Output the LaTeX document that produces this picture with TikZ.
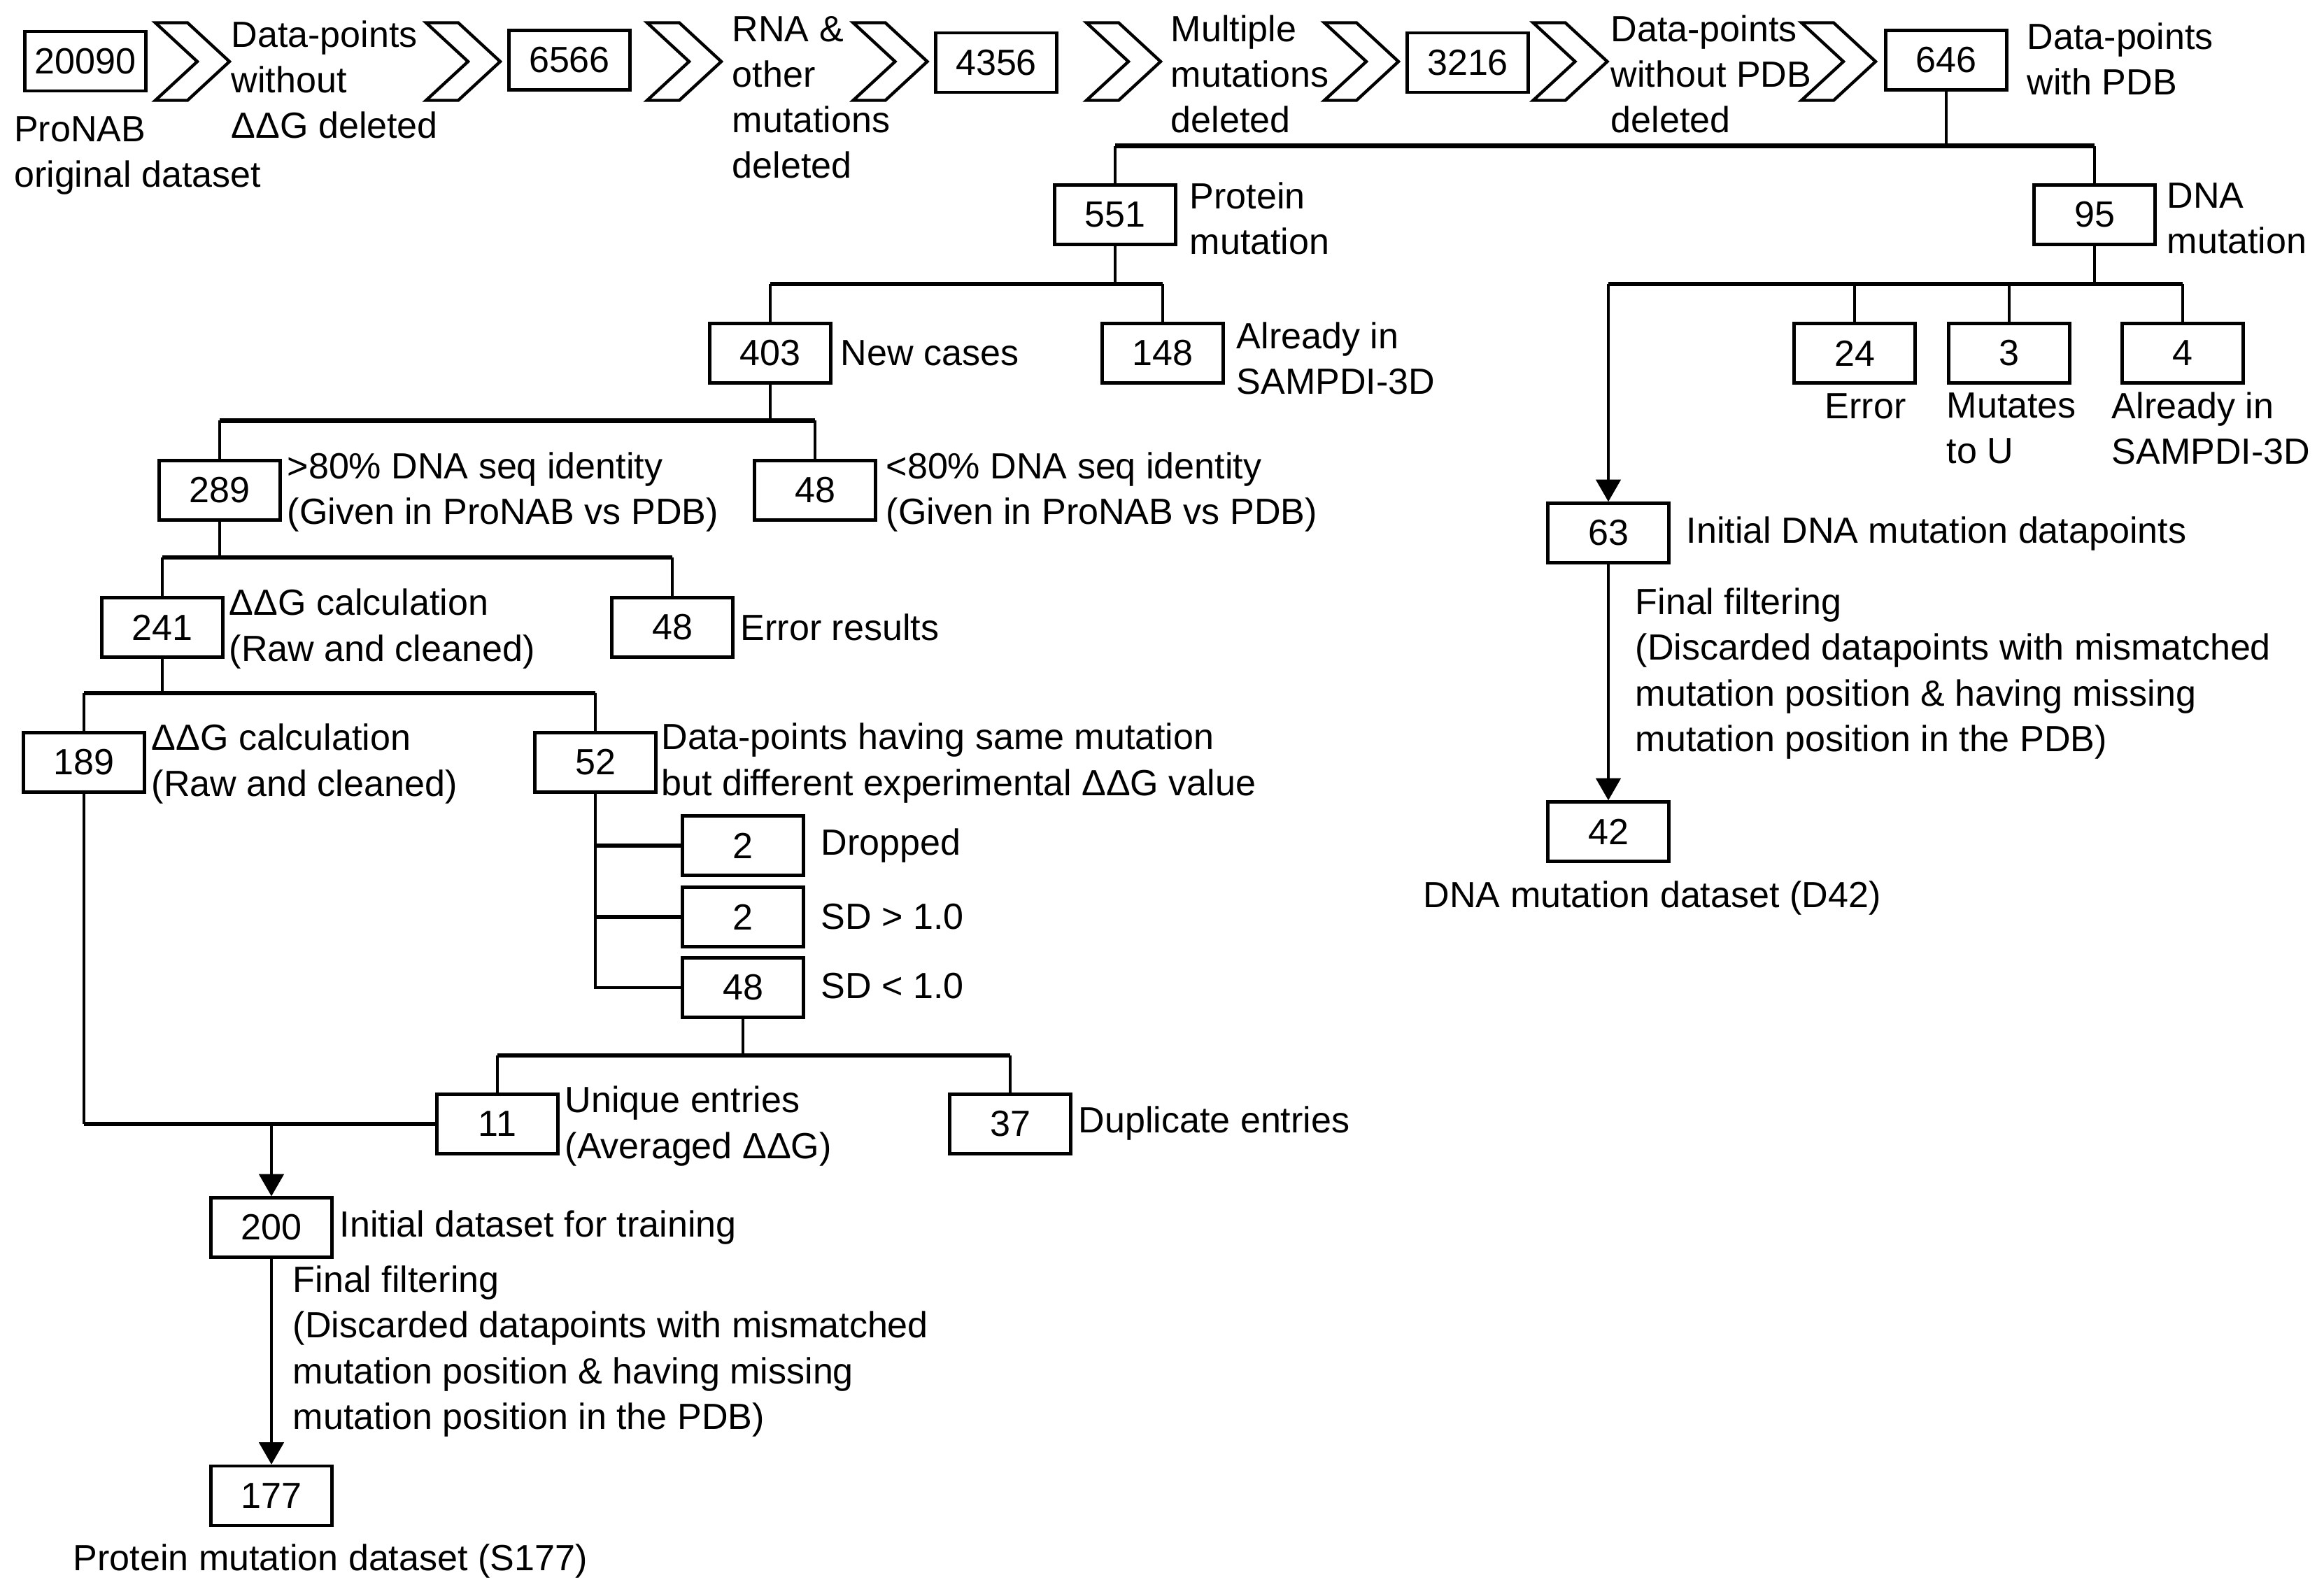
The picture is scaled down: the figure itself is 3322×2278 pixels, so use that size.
\documentclass[tikz,border=0pt]{standalone}
\usepackage{fontspec}
\setmainfont{Liberation Sans}
\usetikzlibrary{arrows.meta}
\newcommand{\lblfont}{\fontsize{14.8}{18.5}\selectfont}
\begin{document}
\begin{tikzpicture}[x=0.01cm,y=-0.01cm,
  box/.style={draw,line width=1.25pt,minimum width=1.73cm,minimum height=0.85cm,inner sep=0pt,font=\lblfont},
  lbl/.style={inner sep=0pt,align=left,anchor=west,font=\lblfont},
  conn/.style={line width=1.2pt},
  bus/.style={line width=1.8pt},
  arr/.style={line width=1.2pt,-{Triangle[width=10pt,length=9pt]}},
  chev/.style={draw,line width=1.25pt,line join=miter}]
\useasboundingbox (0,0) rectangle (3322,2278);

% chevrons
\foreach \cx in {222,609,925,1219.5,1553,1893,2191.5,2575}
  \draw[chev] (\cx,32.5) -- ++(46,0) -- ++(60,55.5) -- ++(-60,55.5) -- ++(-46,0) -- ++(60,-55.5) -- cycle;

% top row
\node[box] (b20090) at (122,87.5) {20090};
\node[box] (b6566) at (814,86) {6566};
\node[box] (b4356) at (1424,89.5) {4356};
\node[box] (b3216) at (2098,89.5) {3216};
\node[box] (b646) at (2782,86) {646};
\node[lbl] (l20090) at (19.5,222.5) {ProNAB\\original dataset};
\node[lbl] (l1) at (330,114) {Data-points\\without\\ΔΔG deleted};
\node[lbl] (l2) at (1046,139) {RNA \&\\other\\mutations\\deleted};
\node[lbl] (l3) at (1673,106) {Multiple\\mutations\\deleted};
\node[lbl] (l4) at (2302,106) {Data-points\\without PDB\\deleted};
\node[lbl] (l646) at (2897,84) {Data-points\\with PDB};

% row 2
\node[box] (b551) at (1594,307) {551};
\node[lbl] (l551) at (1700,312) {Protein\\mutation};
\node[box] (b95) at (2994,307) {95};
\node[lbl] (l95) at (3097,312) {DNA\\mutation};

% row 3
\node[box] (b403) at (1101,505) {403};
\node[lbl] (l403) at (1201,505) {New cases};
\node[box] (b148) at (1662,505) {148};
\node[lbl] (l148) at (1767,512) {Already in\\SAMPDI-3D};
\node[box] (b24) at (2651,505) {24};
\node[box] (b3) at (2872,505) {3};
\node[box] (b4) at (3120,505) {4};
\node[lbl] (l24) at (2608,581) {Error};
\node[lbl] (l3) at (2782,612) {Mutates\\to U};
\node[lbl] (l4) at (3018,612) {Already in\\SAMPDI-3D};

% row 4
\node[box] (b289) at (314,701) {289};
\node[lbl] (l289) at (410,703.5) {>80\% DNA seq identity\\(Given in ProNAB vs PDB)};
\node[box] (b48a) at (1165,701) {48};
\node[lbl] (l48a) at (1266,703.5) {<80\% DNA seq identity\\(Given in ProNAB vs PDB)};

% row 5
\node[box] (b241) at (232,897) {241};
\node[lbl] (l241) at (327,899) {ΔΔG calculation\\(Raw and cleaned)};
\node[box] (b48e) at (961,897) {48};
\node[lbl] (l48e) at (1058,897) {Error results};

% row 6
\node[box] (b189) at (120,1090) {189};
\node[lbl] (l189) at (216,1092) {ΔΔG calculation\\(Raw and cleaned)};
\node[box] (b52) at (851,1090) {52};
\node[lbl] (l52) at (945,1091) {Data-points having same mutation\\but different experimental ΔΔG value};

\node[box] (b2a) at (1062,1209) {2};
\node[lbl] (l2a) at (1173,1209) {Dropped};
\node[box] (b2b) at (1062,1311) {2};
\node[lbl] (l2b) at (1173,1311) {SD > 1.0};
\node[box] (b48c) at (1062,1412) {48};
\node[lbl] (l48c) at (1173,1410) {SD < 1.0};

\node[box] (b11) at (711,1607) {11};
\node[lbl] (l11) at (807,1610) {Unique entries\\(Averaged ΔΔG)};
\node[box] (b37) at (1444,1607) {37};
\node[lbl] (l37) at (1541,1606) {Duplicate entries};

\node[box] (b200) at (388,1755) {200};
\node[lbl] (l200) at (485,1755) {Initial dataset for training};
\node[lbl] (lff1) at (418,1932) {Final filtering\\(Discarded datapoints with mismatched\\mutation position \& having missing\\mutation position in the PDB)};
\node[box] (b177) at (388,2138.5) {177};
\node[lbl] (l177) at (104,2232) {Protein mutation dataset (S177)};

% DNA branch
\node[box] (b63) at (2299,762) {63};
\node[lbl] (l63) at (2410,763) {Initial DNA mutation datapoints};
\node[lbl] (lff2) at (2337,963) {Final filtering\\(Discarded datapoints with mismatched\\mutation position \& having missing\\mutation position in the PDB)};
\node[box] (b42) at (2299,1189) {42};
\node[lbl] (l42) at (2034,1284) {DNA mutation dataset (D42)};

% junction coordinates
\coordinate (j646) at (2782,208.6);
\coordinate (j551) at (1594,405.7);
\coordinate (j95) at (2994,405.7);
\coordinate (j403) at (1101,601.4);
\coordinate (j289) at (314,797);
\coordinate (j241) at (232,990.7);
\coordinate (j48c) at (1062,1509);

% 646 split
\draw[conn] (b646.south) -- (j646);
\draw[bus] (b551.north |- j646) -- (b95.north |- j646);
\draw[conn] (b551.north |- j646) -- (b551.north);
\draw[conn] (b95.north |- j646) -- (b95.north);

% 551 split
\draw[conn] (b551.south) -- (j551);
\draw[bus] (b403.north |- j551) -- (b148.north |- j551);
\draw[conn] (b403.north |- j551) -- (b403.north);
\draw[conn] (b148.north |- j551) -- (b148.north);

% 95 split
\draw[conn] (b95.south) -- (j95);
\draw[bus] (b63.north |- j95) -- (b4.north |- j95);
\draw[conn] (b24.north |- j95) -- (b24.north);
\draw[conn] (b3.north |- j95) -- (b3.north);
\draw[conn] (b4.north |- j95) -- (b4.north);
\draw[arr] (b63.north |- j95) -- (b63.north);
\draw[arr] (b63.south) -- (b42.north);

% 403 split
\draw[conn] (b403.south) -- (j403);
\draw[bus] (b289.north |- j403) -- (b48a.north |- j403);
\draw[conn] (b289.north |- j403) -- (b289.north);
\draw[conn] (b48a.north |- j403) -- (b48a.north);

% 289 split
\draw[conn] (b289.south) -- (j289);
\draw[bus] (b241.north |- j289) -- (b48e.north |- j289);
\draw[conn] (b241.north |- j289) -- (b241.north);
\draw[conn] (b48e.north |- j289) -- (b48e.north);

% 241 split
\draw[conn] (b241.south) -- (j241);
\draw[bus] (b189.north |- j241) -- (b52.north |- j241);
\draw[conn] (b189.north |- j241) -- (b189.north);
\draw[conn] (b52.north |- j241) -- (b52.north);

% 52 sub-branches
\draw[conn] (b52.south) -- (b52.south |- b48c.west) -- (b48c.west);
\draw[bus] (b52.south |- b2a.west) -- (b2a.west);
\draw[bus] (b52.south |- b2b.west) -- (b2b.west);

% 48 split
\draw[conn] (b48c.south) -- (j48c);
\draw[bus] (b11.north |- j48c) -- (b37.north |- j48c);
\draw[conn] (b11.north |- j48c) -- (b11.north);
\draw[conn] (b37.north |- j48c) -- (b37.north);

% merge into 200
\draw[conn] (b189.south) -- (b189.south |- b11.west);
\draw[bus] (b189.south |- b11.west) -- (b11.west);
\draw[arr] (b200.north |- b11.west) -- (b200.north);
\draw[arr] (b200.south) -- (b177.north);
\end{tikzpicture}
\end{document}
